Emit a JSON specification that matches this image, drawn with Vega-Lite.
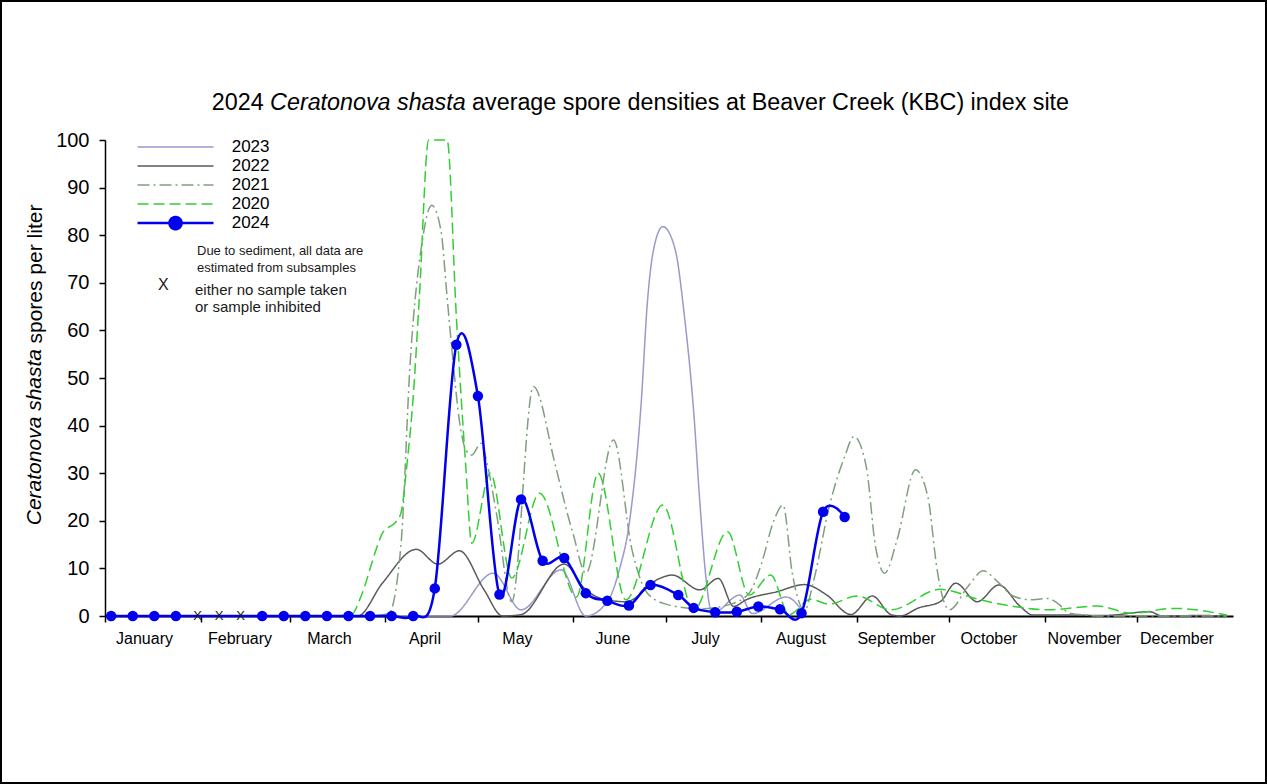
{
  "$schema": "https://vega.github.io/schema/vega-lite/v6.json",
  "width": 1265,
  "height": 782,
  "padding": 1,
  "autosize": {"type": "none"},
  "background": "white",
  "config": {
    "view": {"stroke": "black", "strokeWidth": 2},
    "font": "Liberation Sans"
  },
  "datasets": {
    "history": [
      {"year": "2023", "date": "2024-01-03", "spores": 0},
      {"year": "2023", "date": "2024-04-10", "spores": 0},
      {"year": "2023", "date": "2024-04-22", "spores": 0},
      {"year": "2023", "date": "2024-05-06", "spores": 9.0},
      {"year": "2023", "date": "2024-05-15", "spores": 1.3},
      {"year": "2023", "date": "2024-05-28", "spores": 9.7},
      {"year": "2023", "date": "2024-06-05", "spores": 0},
      {"year": "2023", "date": "2024-06-12", "spores": 3},
      {"year": "2023", "date": "2024-06-16", "spores": 10},
      {"year": "2023", "date": "2024-06-19", "spores": 19},
      {"year": "2023", "date": "2024-06-23", "spores": 45},
      {"year": "2023", "date": "2024-06-25", "spores": 66},
      {"year": "2023", "date": "2024-06-27", "spores": 77},
      {"year": "2023", "date": "2024-06-30", "spores": 81.8},
      {"year": "2023", "date": "2024-07-04", "spores": 77},
      {"year": "2023", "date": "2024-07-07", "spores": 63},
      {"year": "2023", "date": "2024-07-10", "spores": 43},
      {"year": "2023", "date": "2024-07-12", "spores": 24},
      {"year": "2023", "date": "2024-07-14", "spores": 8},
      {"year": "2023", "date": "2024-07-16", "spores": 0.5},
      {"year": "2023", "date": "2024-07-25", "spores": 4.4},
      {"year": "2023", "date": "2024-07-29", "spores": 0.5},
      {"year": "2023", "date": "2024-08-09", "spores": 4},
      {"year": "2023", "date": "2024-08-15", "spores": 0.4},

      {"year": "2022", "date": "2024-01-03", "spores": 0},
      {"year": "2022", "date": "2024-03-10", "spores": 0},
      {"year": "2022", "date": "2024-03-23", "spores": 0},
      {"year": "2022", "date": "2024-03-31", "spores": 6.9},
      {"year": "2022", "date": "2024-04-11", "spores": 14},
      {"year": "2022", "date": "2024-04-18", "spores": 10.9},
      {"year": "2022", "date": "2024-04-25", "spores": 13.7},
      {"year": "2022", "date": "2024-05-03", "spores": 5.5},
      {"year": "2022", "date": "2024-05-09", "spores": 0},
      {"year": "2022", "date": "2024-05-15", "spores": 0.3},
      {"year": "2022", "date": "2024-05-29", "spores": 10.9},
      {"year": "2022", "date": "2024-06-05", "spores": 5.5},
      {"year": "2022", "date": "2024-06-11", "spores": 3.5},
      {"year": "2022", "date": "2024-06-18", "spores": 3.0},
      {"year": "2022", "date": "2024-06-29", "spores": 7.9},
      {"year": "2022", "date": "2024-07-03", "spores": 8.6},
      {"year": "2022", "date": "2024-07-12", "spores": 5.5},
      {"year": "2022", "date": "2024-07-18", "spores": 7.9},
      {"year": "2022", "date": "2024-07-23", "spores": 2},
      {"year": "2022", "date": "2024-07-27", "spores": 3.4},
      {"year": "2022", "date": "2024-08-06", "spores": 5.1},
      {"year": "2022", "date": "2024-08-15", "spores": 6.6},
      {"year": "2022", "date": "2024-08-22", "spores": 4.5},
      {"year": "2022", "date": "2024-08-30", "spores": 0.3},
      {"year": "2022", "date": "2024-09-06", "spores": 4.2},
      {"year": "2022", "date": "2024-09-12", "spores": 0.3},
      {"year": "2022", "date": "2024-09-15", "spores": 0},
      {"year": "2022", "date": "2024-09-21", "spores": 1.7},
      {"year": "2022", "date": "2024-09-28", "spores": 3},
      {"year": "2022", "date": "2024-10-03", "spores": 6.9},
      {"year": "2022", "date": "2024-10-10", "spores": 3},
      {"year": "2022", "date": "2024-10-17", "spores": 6.5},
      {"year": "2022", "date": "2024-10-24", "spores": 2},
      {"year": "2022", "date": "2024-10-28", "spores": 0.2},
      {"year": "2022", "date": "2024-11-07", "spores": 0.2},
      {"year": "2022", "date": "2024-11-20", "spores": 0.1},
      {"year": "2022", "date": "2024-12-05", "spores": 0.9},
      {"year": "2022", "date": "2024-12-09", "spores": 0},
      {"year": "2022", "date": "2024-12-21", "spores": 0.1},
      {"year": "2022", "date": "2024-12-30", "spores": 0},

      {"year": "2021", "date": "2024-01-03", "spores": 0},
      {"year": "2021", "date": "2024-03-25", "spores": 0},
      {"year": "2021", "date": "2024-04-02", "spores": 0.5},
      {"year": "2021", "date": "2024-04-06", "spores": 14.6},
      {"year": "2021", "date": "2024-04-09", "spores": 53},
      {"year": "2021", "date": "2024-04-13", "spores": 79},
      {"year": "2021", "date": "2024-04-16", "spores": 86.3},
      {"year": "2021", "date": "2024-04-19", "spores": 81},
      {"year": "2021", "date": "2024-04-21", "spores": 67},
      {"year": "2021", "date": "2024-04-23", "spores": 53},
      {"year": "2021", "date": "2024-04-25", "spores": 41},
      {"year": "2021", "date": "2024-04-27", "spores": 35},
      {"year": "2021", "date": "2024-04-29", "spores": 33.8},
      {"year": "2021", "date": "2024-05-02", "spores": 36.3},
      {"year": "2021", "date": "2024-05-04", "spores": 32},
      {"year": "2021", "date": "2024-05-07", "spores": 21.6},
      {"year": "2021", "date": "2024-05-12", "spores": 3},
      {"year": "2021", "date": "2024-05-19", "spores": 48.2},
      {"year": "2021", "date": "2024-05-26", "spores": 32},
      {"year": "2021", "date": "2024-05-30", "spores": 21.6},
      {"year": "2021", "date": "2024-06-01", "spores": 17},
      {"year": "2021", "date": "2024-06-05", "spores": 9},
      {"year": "2021", "date": "2024-06-14", "spores": 37},
      {"year": "2021", "date": "2024-06-20", "spores": 13.9},
      {"year": "2021", "date": "2024-06-25", "spores": 4.8},
      {"year": "2021", "date": "2024-07-01", "spores": 2.5},
      {"year": "2021", "date": "2024-07-12", "spores": 1.5},
      {"year": "2021", "date": "2024-07-22", "spores": 2.5},
      {"year": "2021", "date": "2024-07-28", "spores": 4.8},
      {"year": "2021", "date": "2024-08-01", "spores": 11},
      {"year": "2021", "date": "2024-08-05", "spores": 20},
      {"year": "2021", "date": "2024-08-08", "spores": 23.3},
      {"year": "2021", "date": "2024-08-11", "spores": 9},
      {"year": "2021", "date": "2024-08-15", "spores": 1.2},
      {"year": "2021", "date": "2024-08-18", "spores": 7.6},
      {"year": "2021", "date": "2024-08-23", "spores": 23},
      {"year": "2021", "date": "2024-08-28", "spores": 33.5},
      {"year": "2021", "date": "2024-08-31", "spores": 37.7},
      {"year": "2021", "date": "2024-09-04", "spores": 31.4},
      {"year": "2021", "date": "2024-09-07", "spores": 14.6},
      {"year": "2021", "date": "2024-09-10", "spores": 9},
      {"year": "2021", "date": "2024-09-14", "spores": 16},
      {"year": "2021", "date": "2024-09-20", "spores": 30.7},
      {"year": "2021", "date": "2024-09-24", "spores": 25},
      {"year": "2021", "date": "2024-09-27", "spores": 9.7},
      {"year": "2021", "date": "2024-09-29", "spores": 3.4},
      {"year": "2021", "date": "2024-10-01", "spores": 1.3},
      {"year": "2021", "date": "2024-10-07", "spores": 6.2},
      {"year": "2021", "date": "2024-10-12", "spores": 9.5},
      {"year": "2021", "date": "2024-10-16", "spores": 7.6},
      {"year": "2021", "date": "2024-10-22", "spores": 4.1},
      {"year": "2021", "date": "2024-10-28", "spores": 3.4},
      {"year": "2021", "date": "2024-11-02", "spores": 3.7},
      {"year": "2021", "date": "2024-11-05", "spores": 2.7},
      {"year": "2021", "date": "2024-11-09", "spores": 0.6},
      {"year": "2021", "date": "2024-11-20", "spores": 0},
      {"year": "2021", "date": "2024-12-30", "spores": 0},

      {"year": "2020", "date": "2024-01-03", "spores": 0},
      {"year": "2020", "date": "2024-03-15", "spores": 0},
      {"year": "2020", "date": "2024-03-21", "spores": 0.3},
      {"year": "2020", "date": "2024-03-24", "spores": 4},
      {"year": "2020", "date": "2024-03-29", "spores": 14},
      {"year": "2020", "date": "2024-03-31", "spores": 17.4},
      {"year": "2020", "date": "2024-04-02", "spores": 18.6},
      {"year": "2020", "date": "2024-04-04", "spores": 19.5},
      {"year": "2020", "date": "2024-04-06", "spores": 21.6},
      {"year": "2020", "date": "2024-04-08", "spores": 32},
      {"year": "2020", "date": "2024-04-10", "spores": 46},
      {"year": "2020", "date": "2024-04-12", "spores": 67},
      {"year": "2020", "date": "2024-04-15", "spores": 100},
      {"year": "2020", "date": "2024-04-21", "spores": 100},
      {"year": "2020", "date": "2024-04-24", "spores": 62.9},
      {"year": "2020", "date": "2024-04-27", "spores": 32},
      {"year": "2020", "date": "2024-04-29", "spores": 15.3},
      {"year": "2020", "date": "2024-05-05", "spores": 30},
      {"year": "2020", "date": "2024-05-12", "spores": 8},
      {"year": "2020", "date": "2024-05-21", "spores": 25.8},
      {"year": "2020", "date": "2024-06-02", "spores": 4},
      {"year": "2020", "date": "2024-06-09", "spores": 30},
      {"year": "2020", "date": "2024-06-18", "spores": 3.4},
      {"year": "2020", "date": "2024-06-30", "spores": 23.3},
      {"year": "2020", "date": "2024-07-10", "spores": 1.3},
      {"year": "2020", "date": "2024-07-21", "spores": 17.7},
      {"year": "2020", "date": "2024-07-28", "spores": 4.4},
      {"year": "2020", "date": "2024-08-04", "spores": 8.6},
      {"year": "2020", "date": "2024-08-10", "spores": 0.3},
      {"year": "2020", "date": "2024-08-17", "spores": 3.5},
      {"year": "2020", "date": "2024-08-23", "spores": 2.5},
      {"year": "2020", "date": "2024-09-01", "spores": 4.2},
      {"year": "2020", "date": "2024-09-12", "spores": 1.3},
      {"year": "2020", "date": "2024-09-28", "spores": 5.6},
      {"year": "2020", "date": "2024-10-11", "spores": 3.4},
      {"year": "2020", "date": "2024-10-22", "spores": 2},
      {"year": "2020", "date": "2024-11-02", "spores": 1.3},
      {"year": "2020", "date": "2024-11-18", "spores": 2.1},
      {"year": "2020", "date": "2024-11-29", "spores": 0.6},
      {"year": "2020", "date": "2024-12-13", "spores": 1.6},
      {"year": "2020", "date": "2024-12-30", "spores": 0.2}
    ],
    "current": [
      {"year": "2024", "date": "2024-01-03", "spores": 0},
      {"year": "2024", "date": "2024-01-10", "spores": 0},
      {"year": "2024", "date": "2024-01-17", "spores": 0},
      {"year": "2024", "date": "2024-01-24", "spores": 0},
      {"year": "2024", "date": "2024-02-21", "spores": 0},
      {"year": "2024", "date": "2024-02-28", "spores": 0},
      {"year": "2024", "date": "2024-03-06", "spores": 0},
      {"year": "2024", "date": "2024-03-13", "spores": 0},
      {"year": "2024", "date": "2024-03-20", "spores": 0},
      {"year": "2024", "date": "2024-03-27", "spores": 0},
      {"year": "2024", "date": "2024-04-03", "spores": 0},
      {"year": "2024", "date": "2024-04-10", "spores": 0},
      {"year": "2024", "date": "2024-04-17", "spores": 5.8},
      {"year": "2024", "date": "2024-04-24", "spores": 57},
      {"year": "2024", "date": "2024-05-01", "spores": 46.2},
      {"year": "2024", "date": "2024-05-08", "spores": 4.5},
      {"year": "2024", "date": "2024-05-15", "spores": 24.5},
      {"year": "2024", "date": "2024-05-22", "spores": 11.6},
      {"year": "2024", "date": "2024-05-29", "spores": 12.2},
      {"year": "2024", "date": "2024-06-05", "spores": 4.8},
      {"year": "2024", "date": "2024-06-12", "spores": 3.2},
      {"year": "2024", "date": "2024-06-19", "spores": 2.2},
      {"year": "2024", "date": "2024-06-26", "spores": 6.5},
      {"year": "2024", "date": "2024-07-05", "spores": 4.4},
      {"year": "2024", "date": "2024-07-10", "spores": 1.7},
      {"year": "2024", "date": "2024-07-17", "spores": 0.8},
      {"year": "2024", "date": "2024-07-24", "spores": 0.9},
      {"year": "2024", "date": "2024-07-31", "spores": 2.0},
      {"year": "2024", "date": "2024-08-07", "spores": 1.4},
      {"year": "2024", "date": "2024-08-14", "spores": 0.6},
      {"year": "2024", "date": "2024-08-21", "spores": 21.9},
      {"year": "2024", "date": "2024-08-28", "spores": 20.8}
    ],
    "nosample": [
      {"date": "2024-01-31", "spores": 0},
      {"date": "2024-02-07", "spores": 0},
      {"date": "2024-02-14", "spores": 0}
    ]
  },
  "layer": [
    {
      "data": {"name": "history"},
      "mark": {"type": "line", "interpolate": "monotone", "strokeWidth": 1.5},
      "encoding": {
        "x": {
          "field": "date", "type": "temporal",
          "scale": {
            "type": "utc",
            "domain": [{"year": 2024, "month": 1, "date": 1, "utc": true}, {"year": 2025, "month": 1, "date": 1, "utc": true}],
            "range": [104, 1232]
          },
          "axis": {
            "orient": "bottom", "offset": -167, "title": null, "grid": false,
            "values": [
              {"year": 2024, "month": 1, "date": 1, "utc": true},
              {"year": 2024, "month": 2, "date": 1, "utc": true},
              {"year": 2024, "month": 3, "date": 1, "utc": true},
              {"year": 2024, "month": 4, "date": 1, "utc": true},
              {"year": 2024, "month": 5, "date": 1, "utc": true},
              {"year": 2024, "month": 6, "date": 1, "utc": true},
              {"year": 2024, "month": 7, "date": 1, "utc": true},
              {"year": 2024, "month": 8, "date": 1, "utc": true},
              {"year": 2024, "month": 9, "date": 1, "utc": true},
              {"year": 2024, "month": 10, "date": 1, "utc": true},
              {"year": 2024, "month": 11, "date": 1, "utc": true},
              {"year": 2024, "month": 12, "date": 1, "utc": true}
            ],
            "format": "%B", "labelOffset": 39, "labelAlign": "center",
            "labelFont": "Liberation Sans", "labelFontSize": 16, "labelColor": "black",
            "labelPadding": 8, "labelOverlap": false, "labelFlush": false, "labelBound": false,
            "tickSize": 6, "tickWidth": 1.5, "tickColor": "black",
            "domainColor": "black", "domainWidth": 2
          }
        },
        "y": {
          "field": "spores", "type": "quantitative",
          "scale": {"domain": [0, 100], "range": [615, 139], "nice": false, "zero": false},
          "axis": {
            "orient": "left", "offset": -104, "grid": false,
            "values": [0, 5, 10, 15, 20, 25, 30, 35, 40, 45, 50, 55, 60, 65, 70, 75, 80, 85, 90, 95, 100],
            "labelExpr": "datum.value % 10 === 0 ? datum.label : ''",
            "tickSize": {"condition": {"test": "datum.value % 10 === 0", "value": 6}, "value": 3},
            "tickWidth": 1.5, "tickColor": "black",
            "labelFont": "Liberation Sans", "labelFontSize": 20, "labelColor": "black", "labelPadding": 10,
            "labelOverlap": false, "labelBound": false, "labelFlush": false,
            "domainColor": "black", "domainWidth": 1.5,
            "title": "spores per liter",
            "titleFont": "Liberation Sans", "titleFontSize": 21, "titleFontWeight": "normal", "titleColor": "black",
            "titleAngle": 270, "titleAlign": "left", "titleBaseline": "middle",
            "titleX": -70, "titleY": 342
          }
        },
        "color": {
          "field": "year", "type": "nominal",
          "scale": {"domain": ["2023", "2022", "2021", "2020", "2024"], "range": ["#9999cc", "#5a5a5a", "#7fa07f", "#30d030", "#0000ee"]},
          "legend": {
            "orient": "none", "legendX": 136, "legendY": 137, "title": null,
            "padding": 0, "rowPadding": 0, "clipHeight": 18.2,
            "symbolType": "M-1,0H1", "symbolSize": 5776, "symbolStrokeWidth": 1.5, "symbolOffset": 30,
            "labelFont": "Liberation Sans", "labelFontSize": 17, "labelColor": "black", "labelOffset": 47.7,
            "encode": {
              "symbols": {
                "update": {
                  "shape": {"signal": "datum.value === '2024' ? 'M-1,0H1M-0.16,0A0.16,0.16,0,1,0,0.16,0A0.16,0.16,0,1,0,-0.16,0Z' : 'M-1,0H1'"},
                  "fill": {"signal": "datum.value === '2024' ? '#0000ee' : 'transparent'"},
                  "strokeWidth": {"signal": "datum.value === '2024' ? 2.5 : 1.5"}
                }
              }
            }
          }
        },
        "strokeDash": {
          "field": "year", "type": "nominal",
          "scale": {"domain": ["2023", "2022", "2021", "2020", "2024"], "range": [[1, 0], [1, 0], [12, 4, 2, 4], [11, 5], [1, 0]]}
        }
      }
    },
    {
      "data": {"name": "current"},
      "mark": {"type": "line", "interpolate": "cardinal", "strokeWidth": 2.5},
      "encoding": {
        "x": {"field": "date", "type": "temporal"},
        "y": {"field": "spores", "type": "quantitative"},
        "color": {"field": "year", "type": "nominal"}
      }
    },
    {
      "data": {"name": "current"},
      "mark": {"type": "point", "filled": true, "size": 110, "color": "#0000ee", "opacity": 1, "strokeWidth": 0},
      "encoding": {
        "x": {"field": "date", "type": "temporal"},
        "y": {"field": "spores", "type": "quantitative"}
      }
    },
    {
      "data": {"name": "nosample"},
      "mark": {"type": "text", "text": "X", "font": "Liberation Sans", "fontSize": 13, "color": "#1a1a1a", "align": "center", "baseline": "middle"},
      "encoding": {
        "x": {"field": "date", "type": "temporal"},
        "y": {"field": "spores", "type": "quantitative"}
      }
    },
    {
      "data": {"values": [{}]},
      "mark": {"type": "text", "font": "Liberation Sans", "fontSize": 13, "lineHeight": 17, "color": "#1a1a1a", "align": "left", "baseline": "middle"},
      "encoding": {
        "x": {"datum": {"year": 2024, "month": 1, "date": 30, "hours": 20, "minutes": 24, "utc": true}, "type": "temporal"},
        "y": {"datum": 76.6, "type": "quantitative"},
        "text": {"value": ["Due to sediment, all data are", "estimated from subsamples"]}
      }
    },
    {
      "data": {"values": [{}]},
      "mark": {"type": "text", "font": "Liberation Sans", "fontSize": 16, "color": "#1a1a1a", "align": "center", "baseline": "middle"},
      "encoding": {
        "x": {"datum": {"year": 2024, "month": 1, "date": 19, "hours": 21, "minutes": 36, "utc": true}, "type": "temporal"},
        "y": {"datum": 69.5, "type": "quantitative"},
        "text": {"value": "X"}
      }
    },
    {
      "data": {"values": [{}]},
      "mark": {"type": "text", "font": "Liberation Sans", "fontSize": 15, "lineHeight": 16.6, "color": "#1a1a1a", "align": "left", "baseline": "middle"},
      "encoding": {
        "x": {"datum": {"year": 2024, "month": 1, "date": 30, "hours": 4, "minutes": 48, "utc": true}, "type": "temporal"},
        "y": {"datum": 68.5, "type": "quantitative"},
        "text": {"value": ["either no sample taken", "or sample inhibited"]}
      }
    },
    {
      "data": {"values": [{}]},
      "mark": {"type": "text", "font": "Liberation Sans", "fontSize": 23.3, "color": "black", "align": "left", "baseline": "middle"},
      "encoding": {
        "x": {"datum": {"year": 2024, "month": 2, "date": 4, "hours": 15, "minutes": 36, "utc": true}, "type": "temporal"},
        "y": {"datum": 107.8, "type": "quantitative"},
        "text": {"value": "2024"}
      }
    },
    {
      "data": {"values": [{}]},
      "mark": {"type": "text", "font": "Liberation Sans", "fontSize": 23.3, "fontStyle": "italic", "color": "black", "align": "left", "baseline": "middle"},
      "encoding": {
        "x": {"datum": {"year": 2024, "month": 2, "date": 23, "hours": 13, "minutes": 41, "utc": true}, "type": "temporal"},
        "y": {"datum": 107.8, "type": "quantitative"},
        "text": {"value": "Ceratonova shasta"}
      }
    },
    {
      "data": {"values": [{}]},
      "mark": {"type": "text", "font": "Liberation Sans", "fontSize": 23.3, "color": "black", "align": "left", "baseline": "middle"},
      "encoding": {
        "x": {"datum": {"year": 2024, "month": 4, "date": 29, "hours": 2, "minutes": 38, "utc": true}, "type": "temporal"},
        "y": {"datum": 107.8, "type": "quantitative"},
        "text": {"value": "average spore densities at Beaver Creek (KBC) index site"}
      }
    },
    {
      "data": {"values": [{}]},
      "mark": {"type": "text", "font": "Liberation Sans", "fontSize": 21, "fontStyle": "italic", "color": "black", "align": "right", "baseline": "middle", "angle": 270},
      "encoding": {
        "x": {"datum": {"year": 2023, "month": 12, "date": 9, "hours": 7, "utc": true}, "type": "temporal"},
        "y": {"datum": 56.1, "type": "quantitative"},
        "text": {"value": "Ceratonova shasta"}
      }
    }
  ]
}
